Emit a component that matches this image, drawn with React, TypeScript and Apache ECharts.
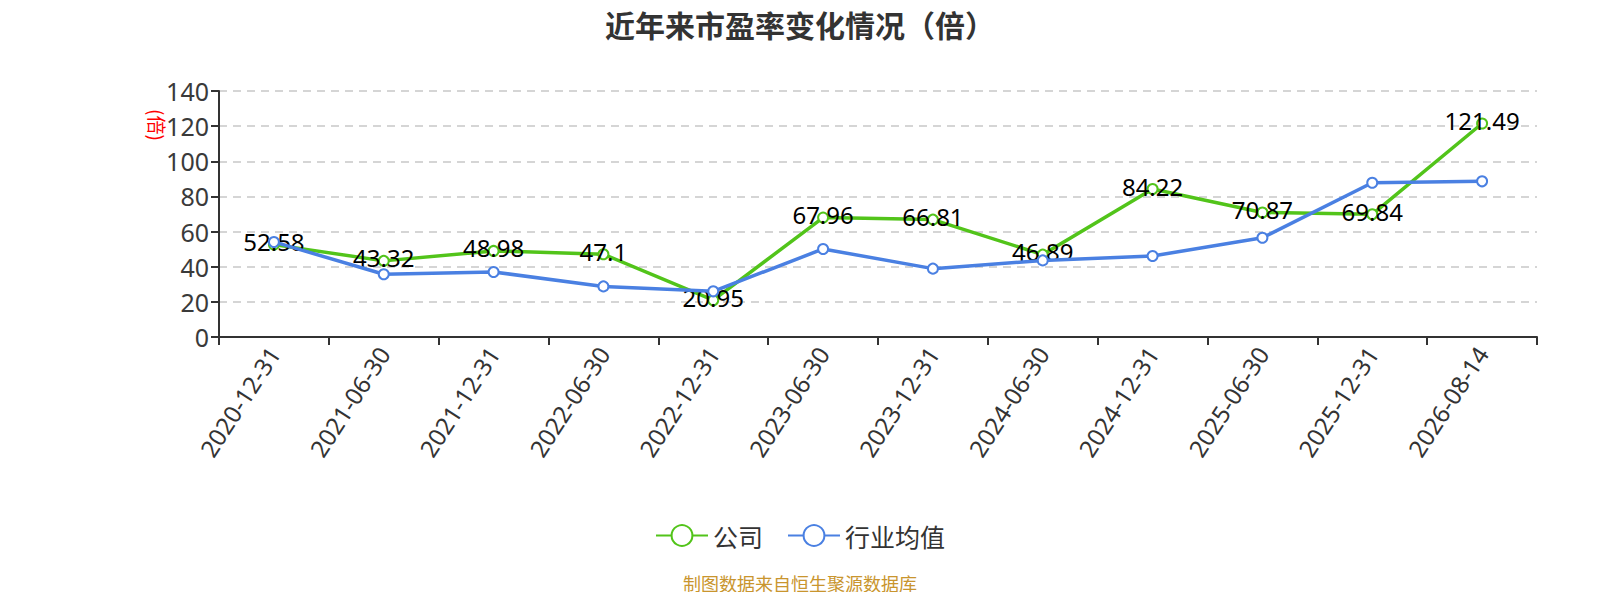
import React, { useEffect, useRef } from "react";
import * as echarts from "echarts";

const categories = [
  "2020-12-31", "2021-06-30", "2021-12-31", "2022-06-30", "2022-12-31", "2023-06-30",
  "2023-12-31", "2024-06-30", "2024-12-31", "2025-06-30", "2025-12-31", "2026-08-14",
];
const companyValues = [52.58, 43.32, 48.98, 47.1, 20.95, 67.96, 66.81, 46.89, 84.22, 70.87, 69.84, 121.49];
const industryValues = [54.1, 35.7, 37.0, 28.8, 26.0, 50.1, 38.9, 43.6, 46.1, 56.5, 87.8, 88.6];
const yTicks = { min: 0, max: 140, interval: 20 };

const FONT = "'Noto Sans', 'Noto Sans CJK SC', sans-serif";
const CJK = "'Noto Sans CJK SC', sans-serif";

export default function App() {
  const ref = useRef<HTMLDivElement>(null);
  useEffect(() => {
    if (!ref.current) return;
    const chart = echarts.init(ref.current, undefined, { renderer: "svg" });
    chart.setOption({
      animation: false,
      textStyle: { fontFamily: FONT },
      title: {
        text: "近年来市盈率变化情况（倍）",
        left: "center",
        top: 4,
        textStyle: { fontSize: 30, fontWeight: "bold", color: "#333", fontFamily: CJK },
      },
      legend: {
        bottom: 47,
        left: "center",
        itemWidth: 52,
        itemHeight: 26,
        itemGap: 24,
        textStyle: { fontSize: 25, color: "#333", fontFamily: CJK },
        data: ["公司", "行业均值"],
      },
      grid: { left: 219, right: 63, top: 91, bottom: 263, containLabel: false },
      xAxis: {
        type: "category",
        data: categories,
        boundaryGap: true,
        axisLine: { lineStyle: { color: "#333", width: 2 } },
        axisTick: { show: true, length: 8, lineStyle: { color: "#333", width: 2 } },
        axisLabel: { rotate: 57, fontSize: 24, color: "#333", margin: 12 },
      },
      yAxis: {
        type: "value",
        min: yTicks.min,
        max: yTicks.max,
        interval: yTicks.interval,
        axisLine: { show: true, lineStyle: { color: "#333", width: 2 } },
        axisTick: { show: true, length: 8, lineStyle: { color: "#333", width: 2 } },
        axisLabel: { fontSize: 25, color: "#3a3a3a", margin: 10 },
        splitLine: { lineStyle: { color: "#c8c8c8", type: [8, 6], width: 1.5 } },
      },
      series: [
        {
          name: "公司",
          type: "line",
          data: companyValues,
          symbol: "emptyCircle",
          symbolSize: 10,
          lineStyle: { color: "#52c41a", width: 3.5 },
          itemStyle: { color: "#52c41a", borderWidth: 2 },
          label: { show: true, position: "inside", offset: [0, -3], fontSize: 24, color: "#000" },
          z: 2,
        },
        {
          name: "行业均值",
          type: "line",
          data: industryValues,
          symbol: "emptyCircle",
          symbolSize: 10,
          lineStyle: { color: "#4a80e2", width: 3.5 },
          itemStyle: { color: "#4a80e2", borderWidth: 2 },
          label: { show: false },
          z: 3,
        },
      ],
      graphic: [
        {
          type: "text",
          x: 157,
          y: 125,
          rotation: -Math.PI / 2,
          style: {
            text: "(倍)",
            fill: "#ff0000",
            fontSize: 19,
            fontFamily: CJK,
            align: "center",
            verticalAlign: "middle",
          },
        },
        {
          type: "text",
          left: "center",
          top: 574,
          style: {
            text: "制图数据来自恒生聚源数据库",
            fill: "#c9952e",
            fontSize: 18,
            fontFamily: CJK,
          },
        },
      ],
    });
    return () => chart.dispose();
  }, []);
  return <div ref={ref} style={{ width: 1600, height: 600, margin: -8 }} />;
}
